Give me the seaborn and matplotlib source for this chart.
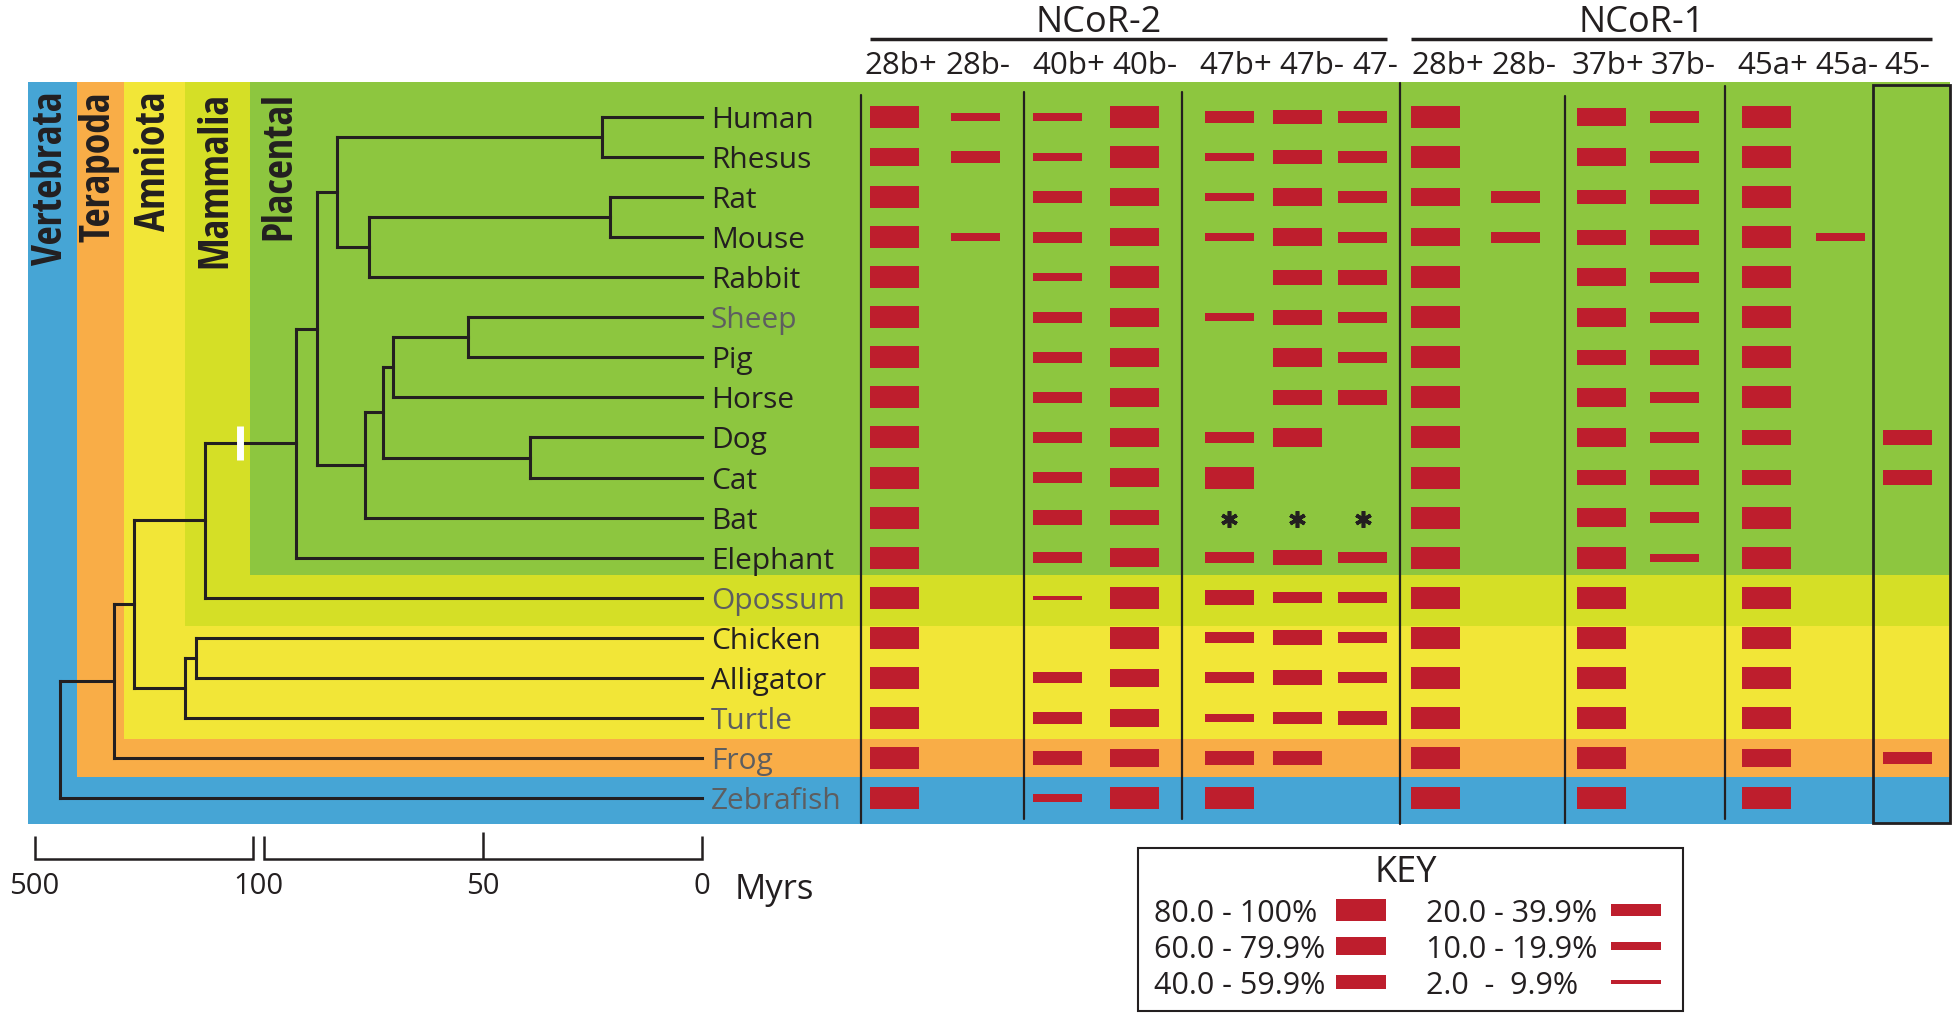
import numpy as np
import pandas as pd
import matplotlib
import matplotlib.pyplot as plt
from matplotlib import font_manager
from matplotlib.patches import Rectangle
import seaborn as sns

# Species in tree order, top to bottom
SPECIES = ['Human', 'Rhesus', 'Rat', 'Mouse', 'Rabbit', 'Sheep', 'Pig', 'Horse',
           'Dog', 'Cat', 'Bat', 'Elephant', 'Opossum', 'Chicken', 'Alligator',
           'Turtle', 'Frog', 'Zebrafish']
GREY_SPECIES = ['Sheep', 'Opossum', 'Turtle', 'Frog', 'Zebrafish']

# Internal nodes of the tree (children listed before parents), ages in Myrs
NODE_NAMES = ['Primates', 'Murinae', 'Glires', 'Euarchontoglires', 'Sheep-pig',
              'Ungulates', 'Carnivora', 'Scrotifera', 'Laurasiatheria',
              'Boreoeutheria', 'Placentalia', 'Mammals', 'Archosauria',
              'Sauropsida', 'Amniotes', 'Tetrapods', 'Vertebrates']
NODE_AGES = [22.8, 21.0, 76.0, 83.3, 53.5, 70.5, 39.3, 72.8, 76.9, 87.9, 92.7,
             188, 204, 224, 318, 355, 453]
NODE_CHILDREN = [('Human', 'Rhesus'), ('Rat', 'Mouse'), ('Murinae', 'Rabbit'),
                 ('Primates', 'Glires'), ('Sheep', 'Pig'), ('Sheep-pig', 'Horse'),
                 ('Dog', 'Cat'), ('Ungulates', 'Carnivora'), ('Scrotifera', 'Bat'),
                 ('Euarchontoglires', 'Laurasiatheria'),
                 ('Boreoeutheria', 'Elephant'), ('Placentalia', 'Opossum'),
                 ('Chicken', 'Alligator'), ('Archosauria', 'Turtle'),
                 ('Mammals', 'Sauropsida'), ('Amniotes', 'Frog'),
                 ('Tetrapods', 'Zebrafish')]

# Coloured clade bands and the last species each one covers
CLADES = ['Vertebrata', 'Terapoda', 'Amniota', 'Mammalia', 'Placental']
CLADE_LAST = ['Zebrafish', 'Frog', 'Turtle', 'Opossum', 'Elephant']

# Splice variant usage as KEY class: 6 = 80-100%, 5 = 60-79.9%, 4 = 40-59.9%,
# 3 = 20-39.9%, 2 = 10-19.9%, 1 = 2-9.9%, 0 = none, -1 = no data (*)
NCOR2_EXONS = ['28b+', '28b-', '40b+', '40b-', '47b+', '47b-', '47-']
NCOR2_LEVELS = {
    '28b+': [6, 5, 6, 6, 6, 6, 6, 6, 6, 6, 6, 6, 6, 6, 6, 6, 6, 6],
    '28b-': [2, 3, 0, 2, 0, 0, 0, 0, 0, 0, 0, 0, 0, 0, 0, 0, 0, 0],
    '40b+': [2, 2, 3, 3, 2, 3, 3, 3, 3, 3, 4, 3, 1, 0, 3, 3, 4, 2],
    '40b-': [6, 6, 5, 5, 6, 5, 5, 5, 5, 5, 4, 5, 6, 6, 5, 5, 5, 6],
    '47b+': [3, 2, 2, 2, 0, 2, 0, 0, 3, 6, -1, 3, 4, 3, 3, 2, 4, 6],
    '47b-': [4, 4, 5, 5, 4, 4, 5, 4, 5, 0, -1, 4, 3, 4, 4, 3, 4, 0],
    '47-':  [3, 3, 3, 3, 4, 3, 3, 4, 0, 0, -1, 3, 3, 3, 3, 4, 0, 0],
}
NCOR1_EXONS = ['28b+', '28b-', '37b+', '37b-', '45a+', '45a-', '45-']
NCOR1_LEVELS = {
    '28b+': [6, 6, 5, 5, 6, 6, 6, 6, 6, 6, 6, 6, 6, 6, 6, 6, 6, 6],
    '28b-': [0, 0, 3, 3, 0, 0, 0, 0, 0, 0, 0, 0, 0, 0, 0, 0, 0, 0],
    '37b+': [5, 5, 4, 4, 5, 5, 4, 5, 5, 4, 5, 6, 6, 6, 6, 6, 6, 6],
    '37b-': [3, 3, 4, 4, 3, 3, 4, 3, 3, 4, 3, 2, 0, 0, 0, 0, 0, 0],
    '45a+': [6, 6, 6, 6, 6, 6, 6, 6, 4, 4, 6, 6, 6, 6, 6, 6, 5, 6],
    '45a-': [0, 0, 0, 2, 0, 0, 0, 0, 0, 0, 0, 0, 0, 0, 0, 0, 0, 0],
    '45-':  [0, 0, 0, 0, 0, 0, 0, 0, 4, 4, 0, 0, 0, 0, 0, 0, 3, 0],
}

KEY_CLASSES = [6, 5, 4, 3, 2, 1]
KEY_LABELS = ['80.0 - 100%', '60.0 - 79.9%', '40.0 - 59.9%',
              '20.0 - 39.9%', '10.0 - 19.9%', '2.0  -  9.9%']

SCALE_TICKS = [500, 100, 50, 0]

# ---- layout (pixels of the 1955 x 1016 canvas) ----
FIG_W, FIG_H = 1955, 1016
ROW0_PX, ROW_PX = 117, 40.06          # centre of first row, row spacing
T0_PX, PX_PER_MYR = 702, 4.38         # tree: 0 Myrs position, linear part
BREAK_MYR, BREAK_GAP, COMPRESS = 100, 2.5, 0.1247   # compressed 100-500 Myrs

BAND_TOP_PX, BAND_RIGHT_PX = 82, 1950
BAND_LEFT_PX = [28, 77, 124, 185, 250]
BAND_PAD = [0.65, 0.48, 0.53, 0.71, 0.43]
BAND_LABEL_PX = [52, 99, 155, 216, 280]
BAND_COLOURS = ['#46A5D5', '#F9AD47', '#F2E637', '#D5DF26', '#8DC63F']

NCOR2_X = [894.5, 975.5, 1058, 1135, 1229.5, 1297.5, 1363]
NCOR1_X = [1436, 1515.5, 1602, 1675, 1767, 1840.5, 1908]
NCOR2_LABEL_X = [901, 978, 1069, 1145, 1236, 1312, 1375]
NCOR1_LABEL_X = [1448, 1524, 1608, 1683, 1773, 1847, 1907]
BAR_W = 49
CLASS_PX = {6: 22, 5: 18.5, 4: 14.7, 3: 11.3, 2: 7.7, 1: 3.6}
DIVIDERS = [(861, 95, 823), (1024, 92, 819), (1182, 92, 819),
            (1400, 83, 824), (1565, 96, 823), (1725, 86, 819)]

INK = '#231F20'
GREY = '#5D5E60'
RED = '#BE1E2D'


def row(px):
    # vertical canvas pixel -> row units
    return (px - ROW0_PX) / ROW_PX


def myr_fwd(t):
    t = np.asarray(t, dtype=float)
    return np.where(t <= BREAK_MYR, t,
                    BREAK_MYR + BREAK_GAP + (t - BREAK_MYR) * COMPRESS)


def myr_inv(v):
    v = np.asarray(v, dtype=float)
    return np.where(v <= BREAK_MYR, v,
                    BREAK_MYR + np.maximum(v - BREAK_MYR - BREAK_GAP, 0) / COMPRESS)


def main():

    sns.set_theme(style='white')
    names = {f.name for f in font_manager.fontManager.ttflist}
    plt.rcParams['font.family'] = ['Open Sans', 'DejaVu Sans']
    if 'Open Sans Condensed' in names:
        clade_font = (['Open Sans Condensed', 'Open Sans'], 30)
    else:
        clade_font = (['Open Sans'], 23)

    fig = plt.figure(figsize=(FIG_W / 100, FIG_H / 100), dpi=100)
    ax = fig.add_axes([0, 0, 1, 1])
    ax.set_xlim(0, FIG_W)
    ax.set_ylim(row(FIG_H), row(0))
    ax.set_autoscale_on(False)
    ax.axis('off')

    # Tree axis: x in Myrs with a compressed segment beyond 100 Myrs
    ax_t = ax.twiny()
    ax_t.set_xscale('function', functions=(myr_fwd, myr_inv))
    left_t = float(myr_inv(T0_PX / PX_PER_MYR))
    right_t = (T0_PX - FIG_W) / PX_PER_MYR
    ax_t.set_xlim(left_t, right_t)
    ax_t.set_autoscale_on(False)
    ax_t.axis('off')

    # Clade bands
    for name, last, left, pad, colour, lab_x in zip(CLADES, CLADE_LAST,
                                                    BAND_LEFT_PX, BAND_PAD,
                                                    BAND_COLOURS, BAND_LABEL_PX):
        top = row(BAND_TOP_PX)
        bottom = SPECIES.index(last) + pad
        ax.add_patch(Rectangle((left, top), BAND_RIGHT_PX - left, bottom - top,
                               facecolor=colour, lw=0, zorder=0))
        ax.text(lab_x, row(92), name, rotation=90, ha='center', va='top',
                family=clade_font[0], fontsize=clade_font[1],
                fontweight='bold', color=INK, zorder=3)

    # Tree
    line = dict(color=INK, lw=2.2, solid_capstyle='projecting', zorder=4)
    node_y = {sp: float(i) for i, sp in enumerate(SPECIES)}
    node_t = {sp: 0.0 for sp in SPECIES}
    for name, age, (a, b) in zip(NODE_NAMES, NODE_AGES, NODE_CHILDREN):
        ax_t.plot([age, age], [node_y[a], node_y[b]], **line)
        for c in (a, b):
            ax_t.plot([age, node_t[c]], [node_y[c], node_y[c]], **line)
        node_y[name] = (node_y[a] + node_y[b]) / 2
        node_t[name] = age

    # Break mark on the placental stem
    yb = node_y['Placentalia']
    ax_t.plot([123, 123], [yb - 0.42, yb + 0.42], color='white', lw=5,
              solid_capstyle='butt', zorder=5)

    # Species names
    for i, sp in enumerate(SPECIES):
        ax.text(711, i, sp, ha='left', va='center_baseline', fontsize=21.5,
                color=GREY if sp in GREY_SPECIES else INK, zorder=3)

    # Time scale bar
    bar_y, tick_top, lab_y = row(859), row(836), row(883)
    sb = dict(color=INK, lw=1.8, solid_capstyle='butt', solid_joinstyle='miter')
    b1_end = np.nextafter(float(BREAK_MYR), np.inf)   # compressed side of the break
    ax_t.plot([SCALE_TICKS[0], SCALE_TICKS[0], b1_end, b1_end],
              [tick_top, bar_y, bar_y, tick_top], **sb)
    ax_t.plot([SCALE_TICKS[1], SCALE_TICKS[1], SCALE_TICKS[3], SCALE_TICKS[3]],
              [tick_top, bar_y, bar_y, tick_top], **sb)
    ax_t.plot([SCALE_TICKS[2], SCALE_TICKS[2]], [row(832), bar_y], **sb)
    for t in SCALE_TICKS:
        dx = -4 if t == BREAK_MYR else 0
        ax_t.annotate(str(t), (t, lab_y), xytext=(dx, 0), textcoords='offset points',
                      ha='center', va='center_baseline', fontsize=21, color=INK)
    ax.text(735, row(886), 'Myrs', ha='left', va='center_baseline', fontsize=25,
            color=INK)

    # Splice variant bars
    frames = []
    for exons, levels, xs, gene in ((NCOR2_EXONS, NCOR2_LEVELS, NCOR2_X, 'NCoR-2'),
                                    (NCOR1_EXONS, NCOR1_LEVELS, NCOR1_X, 'NCoR-1')):
        for exon, x in zip(exons, xs):
            frames.append(pd.DataFrame({'gene': gene, 'exon': exon, 'x': x,
                                        'y': np.arange(len(SPECIES)),
                                        'level': levels[exon]}))
    df = pd.concat(frames, ignore_index=True)
    present = df[df['level'] > 0]
    h = present['level'].map(CLASS_PX) / ROW_PX
    ax.bar(present['x'], h, bottom=present['y'] - h / 2, width=BAR_W,
           color=RED, lw=0, zorder=2)
    missing = df[df['level'] < 0]
    ax.plot(missing['x'], missing['y'] + 0.03, ls='none', marker=(6, 2, 0),
            ms=12, mew=2.6, color=INK, zorder=3)

    # Column labels, gene headers and dividers
    for exons, xs, lxs, gene in ((NCOR2_EXONS, NCOR2_X, NCOR2_LABEL_X, 'NCoR-2'),
                                 (NCOR1_EXONS, NCOR1_X, NCOR1_LABEL_X, 'NCoR-1')):
        for exon, lx in zip(exons, lxs):
            ax.text(lx, row(62), exon, ha='center', va='center_baseline',
                    fontsize=22.5, color=INK)
        x0, x1 = xs[0] - BAR_W / 2, xs[-1] + BAR_W / 2
        ax.plot([x0, x1], [row(39), row(39)], color=INK, lw=2.5,
                solid_capstyle='butt')
        ax.text((x0 + x1) / 2 - 30, row(18), gene, ha='center',
                va='center_baseline', fontsize=26, color=INK)
    for x, top, bottom in DIVIDERS:
        ax.plot([x, x], [row(top), row(bottom)], color=INK, lw=1.6, zorder=3)
    ax.add_patch(Rectangle((1873, row(85)), 1950 - 1873, row(823) - row(85),
                           fill=False, edgecolor=INK, lw=2, zorder=3))

    # KEY
    ax.add_patch(Rectangle((1138, row(848)), 1683 - 1138, row(1011) - row(848),
                           fill=False, edgecolor=INK, lw=1.5))
    ax.text(1406, row(869), 'KEY', ha='center', va='center_baseline',
            fontsize=26, color=INK)
    key_rows = [row(910), row(946), row(982)]
    for k, (cls, label) in enumerate(zip(KEY_CLASSES, KEY_LABELS)):
        col, r = divmod(k, 3)
        text_x, bar_x = (1154, 1361) if col == 0 else (1426, 1636)
        y = key_rows[r]
        hh = CLASS_PX[cls] / ROW_PX
        ax.bar([bar_x], [hh], bottom=[y - hh / 2], width=50, color=RED, lw=0)
        ax.text(text_x, y, label, ha='left', va='center_baseline', fontsize=22,
                color=INK)

    fig.savefig('out.png', dpi=100)
    plt.close(fig)


if __name__ == "__main__":
    main()
